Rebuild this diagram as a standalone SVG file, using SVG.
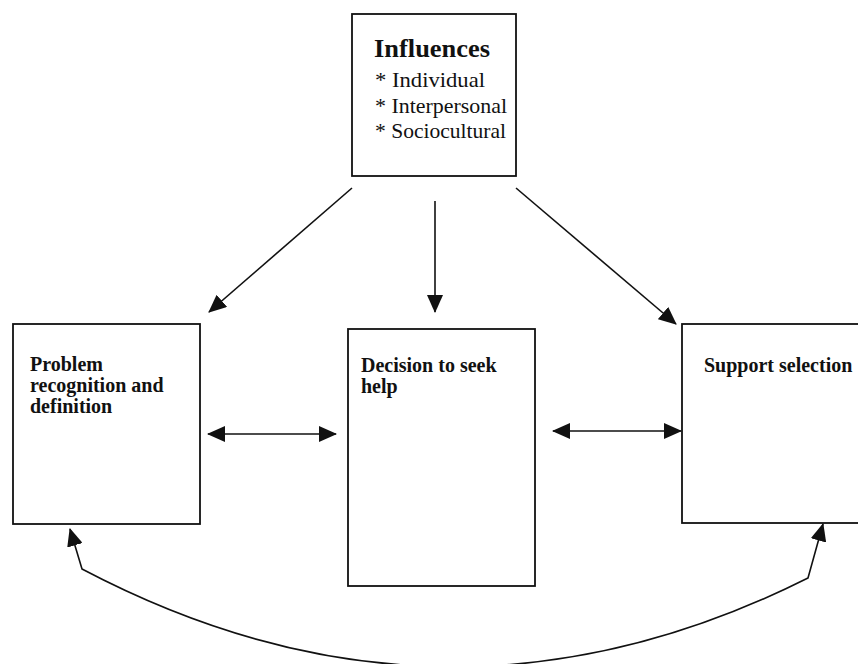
<svg xmlns="http://www.w3.org/2000/svg" width="858" height="664" viewBox="0 0 858 664">
<defs>
<style>
.box{fill:#fff;stroke:#111;stroke-width:1.8}
.t{font-family:"Liberation Serif","Times New Roman",serif;fill:#111}
.b{font-weight:bold;font-size:20px}
.r{font-size:21px}
.c{fill:none;stroke:#111;stroke-width:1.6}
</style>
<marker id="ah" viewBox="0 0 18 16" refX="17" refY="8" markerWidth="18" markerHeight="16" markerUnits="userSpaceOnUse" orient="auto-start-reverse">
<path d="M0,0 L18,8 L0,16 Z" fill="#111"/>
</marker>
</defs>
<rect width="858" height="664" fill="#fff"/>
<g id="influences">
<rect class="box" x="352" y="14" width="164" height="162"/>
<text class="t" x="374" y="57" font-size="25" font-weight="bold" textLength="116" lengthAdjust="spacingAndGlyphs">Influences</text>
<text class="t r" x="375" y="87" textLength="110" lengthAdjust="spacingAndGlyphs">* Individual</text>
<text class="t r" x="375" y="113" textLength="132" lengthAdjust="spacingAndGlyphs">* Interpersonal</text>
<text class="t r" x="375" y="138" textLength="131" lengthAdjust="spacingAndGlyphs">* Sociocultural</text>
</g>
<g id="problem">
<rect class="box" x="13" y="324" width="187" height="200"/>
<text class="t b" x="30" y="371">Problem</text>
<text class="t b" x="30" y="392">recognition and</text>
<text class="t b" x="30" y="413">definition</text>
</g>
<g id="decision">
<rect class="box" x="348" y="329" width="187" height="257"/>
<text class="t b" x="361" y="372">Decision to seek</text>
<text class="t b" x="361" y="393">help</text>
</g>
<g id="support">
<rect class="box" x="682" y="324" width="190" height="199"/>
<text class="t b" x="704" y="372">Support selection</text>
</g>
<g id="connectors">
<line class="c" x1="352" y1="188" x2="209" y2="312" marker-end="url(#ah)"/>
<line class="c" x1="435" y1="201" x2="435" y2="312" marker-end="url(#ah)"/>
<line class="c" x1="516" y1="188" x2="676" y2="324" marker-end="url(#ah)"/>
<line class="c" x1="208" y1="434" x2="336" y2="434" marker-start="url(#ah)" marker-end="url(#ah)"/>
<line class="c" x1="553" y1="431" x2="681" y2="431" marker-start="url(#ah)" marker-end="url(#ah)"/>
<path class="c" d="M70,529 L82,569 Q445,760 808,578 L823,524" marker-start="url(#ah)" marker-end="url(#ah)"/>
</g>
</svg>
